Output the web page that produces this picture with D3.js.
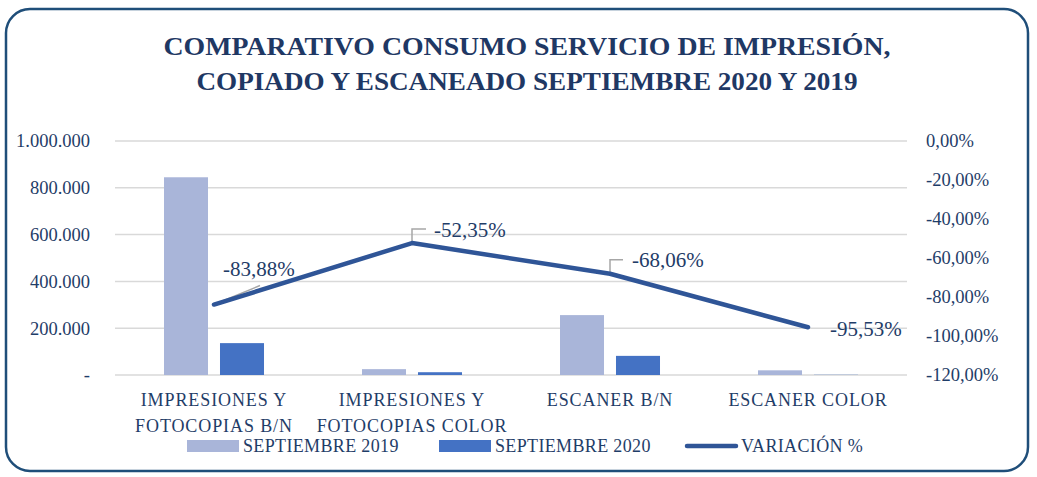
<!DOCTYPE html>
<html>
<head>
<meta charset="utf-8">
<script src="https://cdn.jsdelivr.net/npm/d3@7"></script>
<style>
  body { margin: 0; background: #fff; }
  svg text { font-family: "Liberation Serif", "DejaVu Serif", serif; }
</style>
</head>
<body>
<svg id="chart" width="1037" height="477"></svg>
<script>
var categories = [
    ["IMPRESIONES Y", "FOTOCOPIAS B/N"],
    ["IMPRESIONES Y", "FOTOCOPIAS COLOR"],
    ["ESCANER B/N"],
    ["ESCANER COLOR"]
];
var sep2019 = [845000, 25000, 256000, 20000];
var sep2020 = [136200, 11900, 81770, 894];
var variacion = [-83.88, -52.35, -68.06, -95.53];
var leftTicks = [0, 200000, 400000, 600000, 800000, 1000000];
var rightTicks = [0, -20, -40, -60, -80, -100, -120];
var seriesNames = ["SEPTIEMBRE 2019", "SEPTIEMBRE 2020", "VARIACIÓN %"];

var textColor = "#1F3D68";
var c2019 = "#A9B5D9";
var c2020 = "#4472C4";
var cLine = "#2F5597";

var svg = d3.select("#chart");
var margin = {top: 141, right: 130, bottom: 102, left: 115};
var width = 1037 - margin.left - margin.right;
var height = 477 - margin.top - margin.bottom;

// borde redondeado
svg.append("rect")
    .attr("x", 6).attr("y", 9)
    .attr("width", 1022).attr("height", 462)
    .attr("rx", 24)
    .style("fill", "none")
    .style("stroke", "#1F4E79")
    .style("stroke-width", 2.5);

// titulo
var title = ["COMPARATIVO CONSUMO SERVICIO DE IMPRESIÓN,", "COPIADO Y ESCANEADO SEPTIEMBRE 2020 Y 2019"];
var titleLen = [727, 661];
svg.selectAll(".title")
    .data(title)
    .enter().append("text")
    .attr("class", "title")
    .attr("x", 527)
    .attr("y", function(d, i) { return 55 + i * 35; })
    .attr("text-anchor", "middle")
    .attr("textLength", function(d, i) { return titleLen[i]; })
    .attr("lengthAdjust", "spacingAndGlyphs")
    .style("font-size", "26px")
    .style("font-weight", "bold")
    .style("fill", "#1F3864")
    .text(function(d) { return d; });

var g = svg.append("g")
    .attr("transform", "translate(" + margin.left + "," + margin.top + ")");

var x = d3.scaleBand().domain(d3.range(categories.length)).range([0, width]);
var xs = d3.scaleBand().domain([0, 1]).range([0, x.bandwidth()])
    .paddingInner(0.214).paddingOuter(0.875);
var y = d3.scaleLinear().domain([0, 1000000]).range([height, 0]);
var y2 = d3.scaleLinear().domain([-120, 0]).range([height, 0]);

// grid
g.selectAll(".grid")
    .data(leftTicks)
    .enter().append("line")
    .attr("x1", 0).attr("x2", width)
    .attr("y1", function(d) { return y(d); })
    .attr("y2", function(d) { return y(d); })
    .style("stroke", "#D9D9D9")
    .style("stroke-width", 1.5);

// ejes
var fmtLeft = function(d) {
    if (d === 0) return "-";
    return d3.format(",")(d).replace(/,/g, ".");
};
var fmtPct = function(d) {
    return d3.format(".2f")(d).replace(".", ",").replace("\u2212", "-") + "%";
};
var yAxis = g.append("g")
    .call(d3.axisLeft(y).tickValues(leftTicks).tickFormat(fmtLeft).tickSize(0).tickPadding(25));
var yAxis2 = g.append("g")
    .attr("transform", "translate(" + width + ",0)")
    .call(d3.axisRight(y2).tickValues(rightTicks).tickFormat(fmtPct).tickSize(0).tickPadding(19));
[yAxis, yAxis2].forEach(function(ax) {
    ax.select(".domain").remove();
    ax.selectAll("text")
        .style("font-family", "Liberation Serif, serif")
        .style("font-size", "18.5px")
        .style("fill", textColor);
});

// barras
var barData = [sep2019, sep2020];
var barColors = [c2019, c2020];
barData.forEach(function(vals, s) {
    g.selectAll(".bar" + s)
        .data(vals)
        .enter().append("rect")
        .attr("class", "bar" + s)
        .attr("x", function(d, i) { return x(i) + xs(s); })
        .attr("width", xs.bandwidth())
        .attr("y", function(d) { return y(d); })
        .attr("height", function(d) { return height - y(d); })
        .style("fill", barColors[s]);
});

// linea de variacion
var line = d3.line()
    .x(function(d, i) { return x(i) + x.bandwidth() / 2; })
    .y(function(d) { return y2(d); });

// etiquetas con lineas guia
var labelOffsets = [
    {dx: 9, dy: -36, leader: [[0, 0], [46, -19]]},
    {dx: 22, dy: -13, leader: [[0, -1], [0, -14], [14, -14]]},
    {dx: 22, dy: -14, leader: [[0, -1], [0, -14], [13, -14]]},
    {dx: 22, dy: 1, leader: null}
];

variacion.forEach(function(d, i) {
    var px = x(i) + x.bandwidth() / 2;
    var py = y2(d);
    var o = labelOffsets[i];
    if (o.leader) {
        g.append("path")
            .attr("d", d3.line()(o.leader.map(function(p) { return [px + p[0], py + p[1]]; })))
            .style("fill", "none")
            .style("stroke", "#A6A6A6")
            .style("stroke-width", 1.5);
    }
});

g.append("path")
    .datum(variacion)
    .attr("d", line)
    .style("fill", "none")
    .style("stroke", cLine)
    .style("stroke-width", 4.5)
    .style("stroke-linecap", "round")
    .style("stroke-linejoin", "round");

variacion.forEach(function(d, i) {
    var px = x(i) + x.bandwidth() / 2;
    var py = y2(d);
    var o = labelOffsets[i];
    g.append("text")
        .attr("x", px + o.dx)
        .attr("y", py + o.dy)
        .attr("dy", "0.35em")
        .style("font-size", "21px")
        .style("fill", textColor)
        .text(fmtPct(d));
});

// categorias
var cat = g.selectAll(".cat")
    .data(categories)
    .enter().append("text")
    .attr("class", "cat")
    .attr("text-anchor", "middle")
    .attr("transform", function(d, i) {
        return "translate(" + (x(i) + x.bandwidth() / 2) + "," + (height + 31) + ")";
    })
    .style("font-size", "18px")
    .style("letter-spacing", "0.9px")
    .style("fill", textColor);
cat.selectAll("tspan")
    .data(function(d) { return d; })
    .enter().append("tspan")
    .attr("x", 0)
    .attr("dy", function(d, i) { return i === 0 ? 0 : 26; })
    .text(function(d) { return d; });

// leyenda
var legend = svg.append("g");
var legendX = [187, 439, 685];
seriesNames.forEach(function(name, i) {
    var lg = legend.append("g").attr("transform", "translate(" + legendX[i] + ",446)");
    if (i < 2) {
        lg.append("rect")
            .attr("x", 0).attr("y", -6)
            .attr("width", 52).attr("height", 12)
            .style("fill", barColors[i]);
    } else {
        lg.append("line")
            .attr("x1", 2).attr("x2", 51)
            .attr("y1", 0).attr("y2", 0)
            .style("stroke", cLine)
            .style("stroke-width", 4.5)
            .style("stroke-linecap", "round");
    }
    lg.append("text")
        .attr("x", 56)
        .attr("y", 0)
        .attr("dy", "0.35em")
        .style("font-size", "18px")
        .style("letter-spacing", "0.35px")
        .style("fill", textColor)
        .text(name);
});
</script>
</body>
</html>
